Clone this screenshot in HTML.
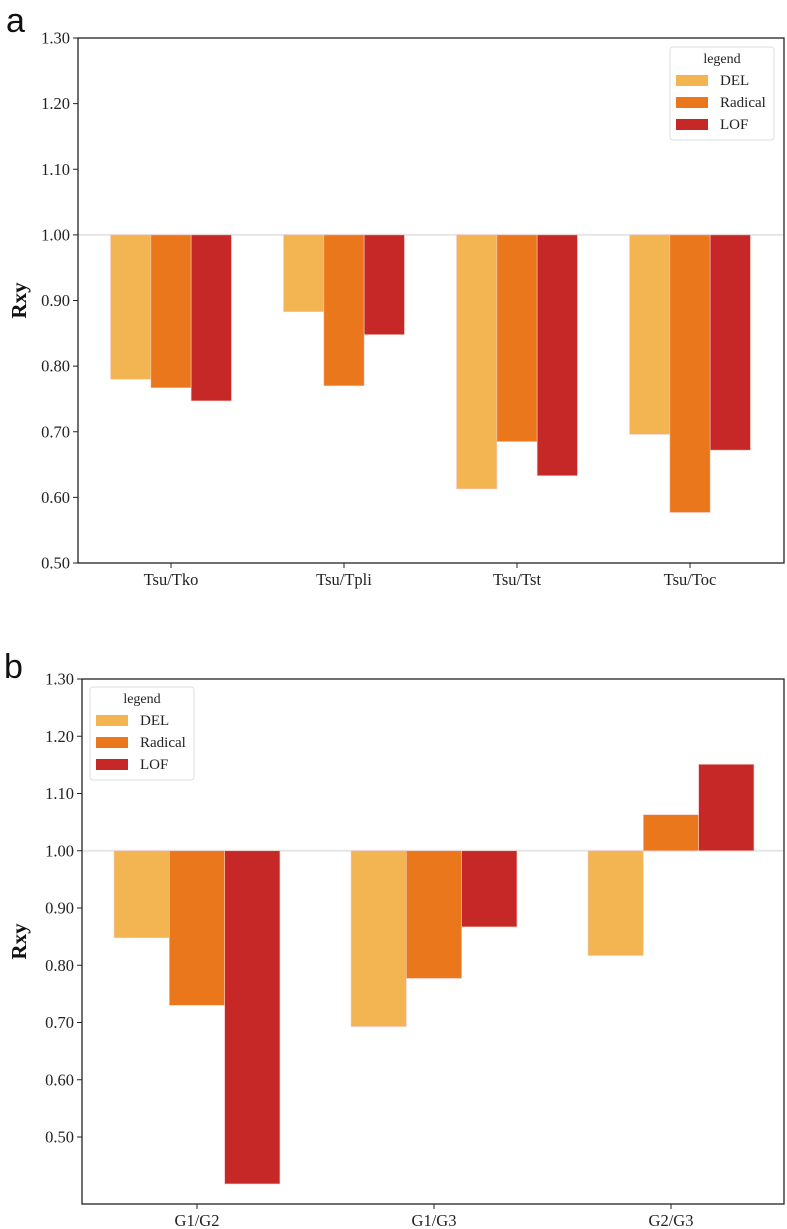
<!DOCTYPE html>
<html><head><meta charset="utf-8"><style>
body{margin:0;background:#fff;}
svg{display:block;font-family:"Liberation Serif",serif;}
.tk{font-size:16.5px;fill:#222;}
</style></head><body>
<svg width="787" height="1229" viewBox="0 0 787 1229">
<text x="6" y="32" font-family="Liberation Sans, sans-serif" font-size="34" fill="#111">a</text>
<text x="4" y="678" font-family="Liberation Sans, sans-serif" font-size="34" fill="#111">b</text>
<g id="ca"></g>
<g id="cb"></g>
</svg>
<script>
const seriesNames=["DEL","Radical","LOF"];
const colors=["#F3B552","#EA771C","#C62828"];
const catsA=["Tsu/Tko","Tsu/Tpli","Tsu/Tst","Tsu/Toc"];
const delA=[0.780,0.883,0.613,0.696];
const radA=[0.767,0.770,0.685,0.577];
const lofA=[0.747,0.848,0.633,0.672];
const catsB=["G1/G2","G1/G3","G2/G3"];
const delB=[0.848,0.693,0.817];
const radB=[0.730,0.777,1.063];
const lofB=[0.418,0.867,1.151];
const ticks=[1.30,1.20,1.10,1.00,0.90,0.80,0.70,0.60,0.50];
const NS="http://www.w3.org/2000/svg";
function mk(p,t,a){const e=document.createElementNS(NS,t);for(const k in a)e.setAttribute(k,a[k]);p.appendChild(e);return e;}
function chart(g,cfg,cats,series){
  const y=v=>cfg.y1+(cfg.v1-v)/(cfg.v1-cfg.v0)*(cfg.y0-cfg.y1);
  const cx=i=>cfg.c0+i*cfg.cs;
  const base=y(1.0);
  let l=mk(g,'line',{x1:cfg.x0,x2:cfg.x1,y1:base,y2:base,stroke:'#e6e6e6','stroke-width':2});
  
  
  cats.forEach((c,i)=>{
    series.forEach((s,j)=>{
      const x=cx(i)+(j-1.5)*cfg.bw, v=s[i];
      const r=mk(g,'rect',{x:x,y:Math.min(y(v),base),width:cfg.bw,height:Math.abs(y(v)-base),fill:colors[j],stroke:'#f6c8c0','stroke-width':0.6});
      
      
    });
    mk(g,'line',{x1:cx(i),x2:cx(i),y1:cfg.yb,y2:cfg.yb+5,stroke:'#222'});
    const t=mk(g,'text',{x:cx(i),y:cfg.yb+22,'text-anchor':'middle',class:'tk'});t.textContent=c;
    
    
  });
  ticks.forEach(v=>{
    const yy=y(v); if(yy>cfg.yb+1)return;
    mk(g,'line',{x1:cfg.x0-5,x2:cfg.x0,y1:yy,y2:yy,stroke:'#222'});
    const t=mk(g,'text',{x:cfg.x0-8,y:yy+5.5,'text-anchor':'end',class:'tk'});t.textContent=v.toFixed(2);
    
    
  });
  const fr=mk(g,'rect',{x:cfg.x0,y:cfg.y1,width:cfg.x1-cfg.x0,height:cfg.yb-cfg.y1,fill:'none',stroke:'#222','stroke-width':1.3});
  
  
  const ym=(cfg.y1+cfg.yb)/2;
  const yt=mk(g,'text',{x:26,y:ym,transform:`rotate(-90 26 ${ym})`,'text-anchor':'middle','font-size':21,'font-weight':'bold',fill:'#111'});yt.textContent='Rxy';
  
  
  const L=cfg.leg;
  const lg=mk(g,'g',{});
  
  
  mk(lg,'rect',{x:L.x,y:L.y,width:104,height:93,rx:3,fill:'#fff',stroke:'#ddd'});
  const lt=mk(lg,'text',{x:L.x+52,y:L.y+16,'text-anchor':'middle','font-size':14,fill:'#222'});lt.textContent='legend';
  seriesNames.forEach((n,j)=>{
    const e=mk(lg,'g',{});
    
    
    mk(e,'rect',{x:L.x+6,y:L.y+28+j*22,width:32,height:11,fill:colors[j]});
    const tx=mk(e,'text',{x:L.x+50,y:L.y+38+j*22,'font-size':15,fill:'#222'});tx.textContent=n;
  });
}
chart(document.getElementById('ca'),{x0:78,x1:784,y1:38,y0:563,yb:563,v1:1.3,v0:0.5,c0:171,cs:173,bw:40.3,leg:{x:670,y:47}},catsA,[delA,radA,lofA]);
chart(document.getElementById('cb'),{x0:82,x1:784,y1:679,y0:1137,yb:1204,v1:1.3,v0:0.5,c0:197,cs:237,bw:55.3,leg:{x:90,y:687}},catsB,[delB,radB,lofB]);
</script>
</body></html>
